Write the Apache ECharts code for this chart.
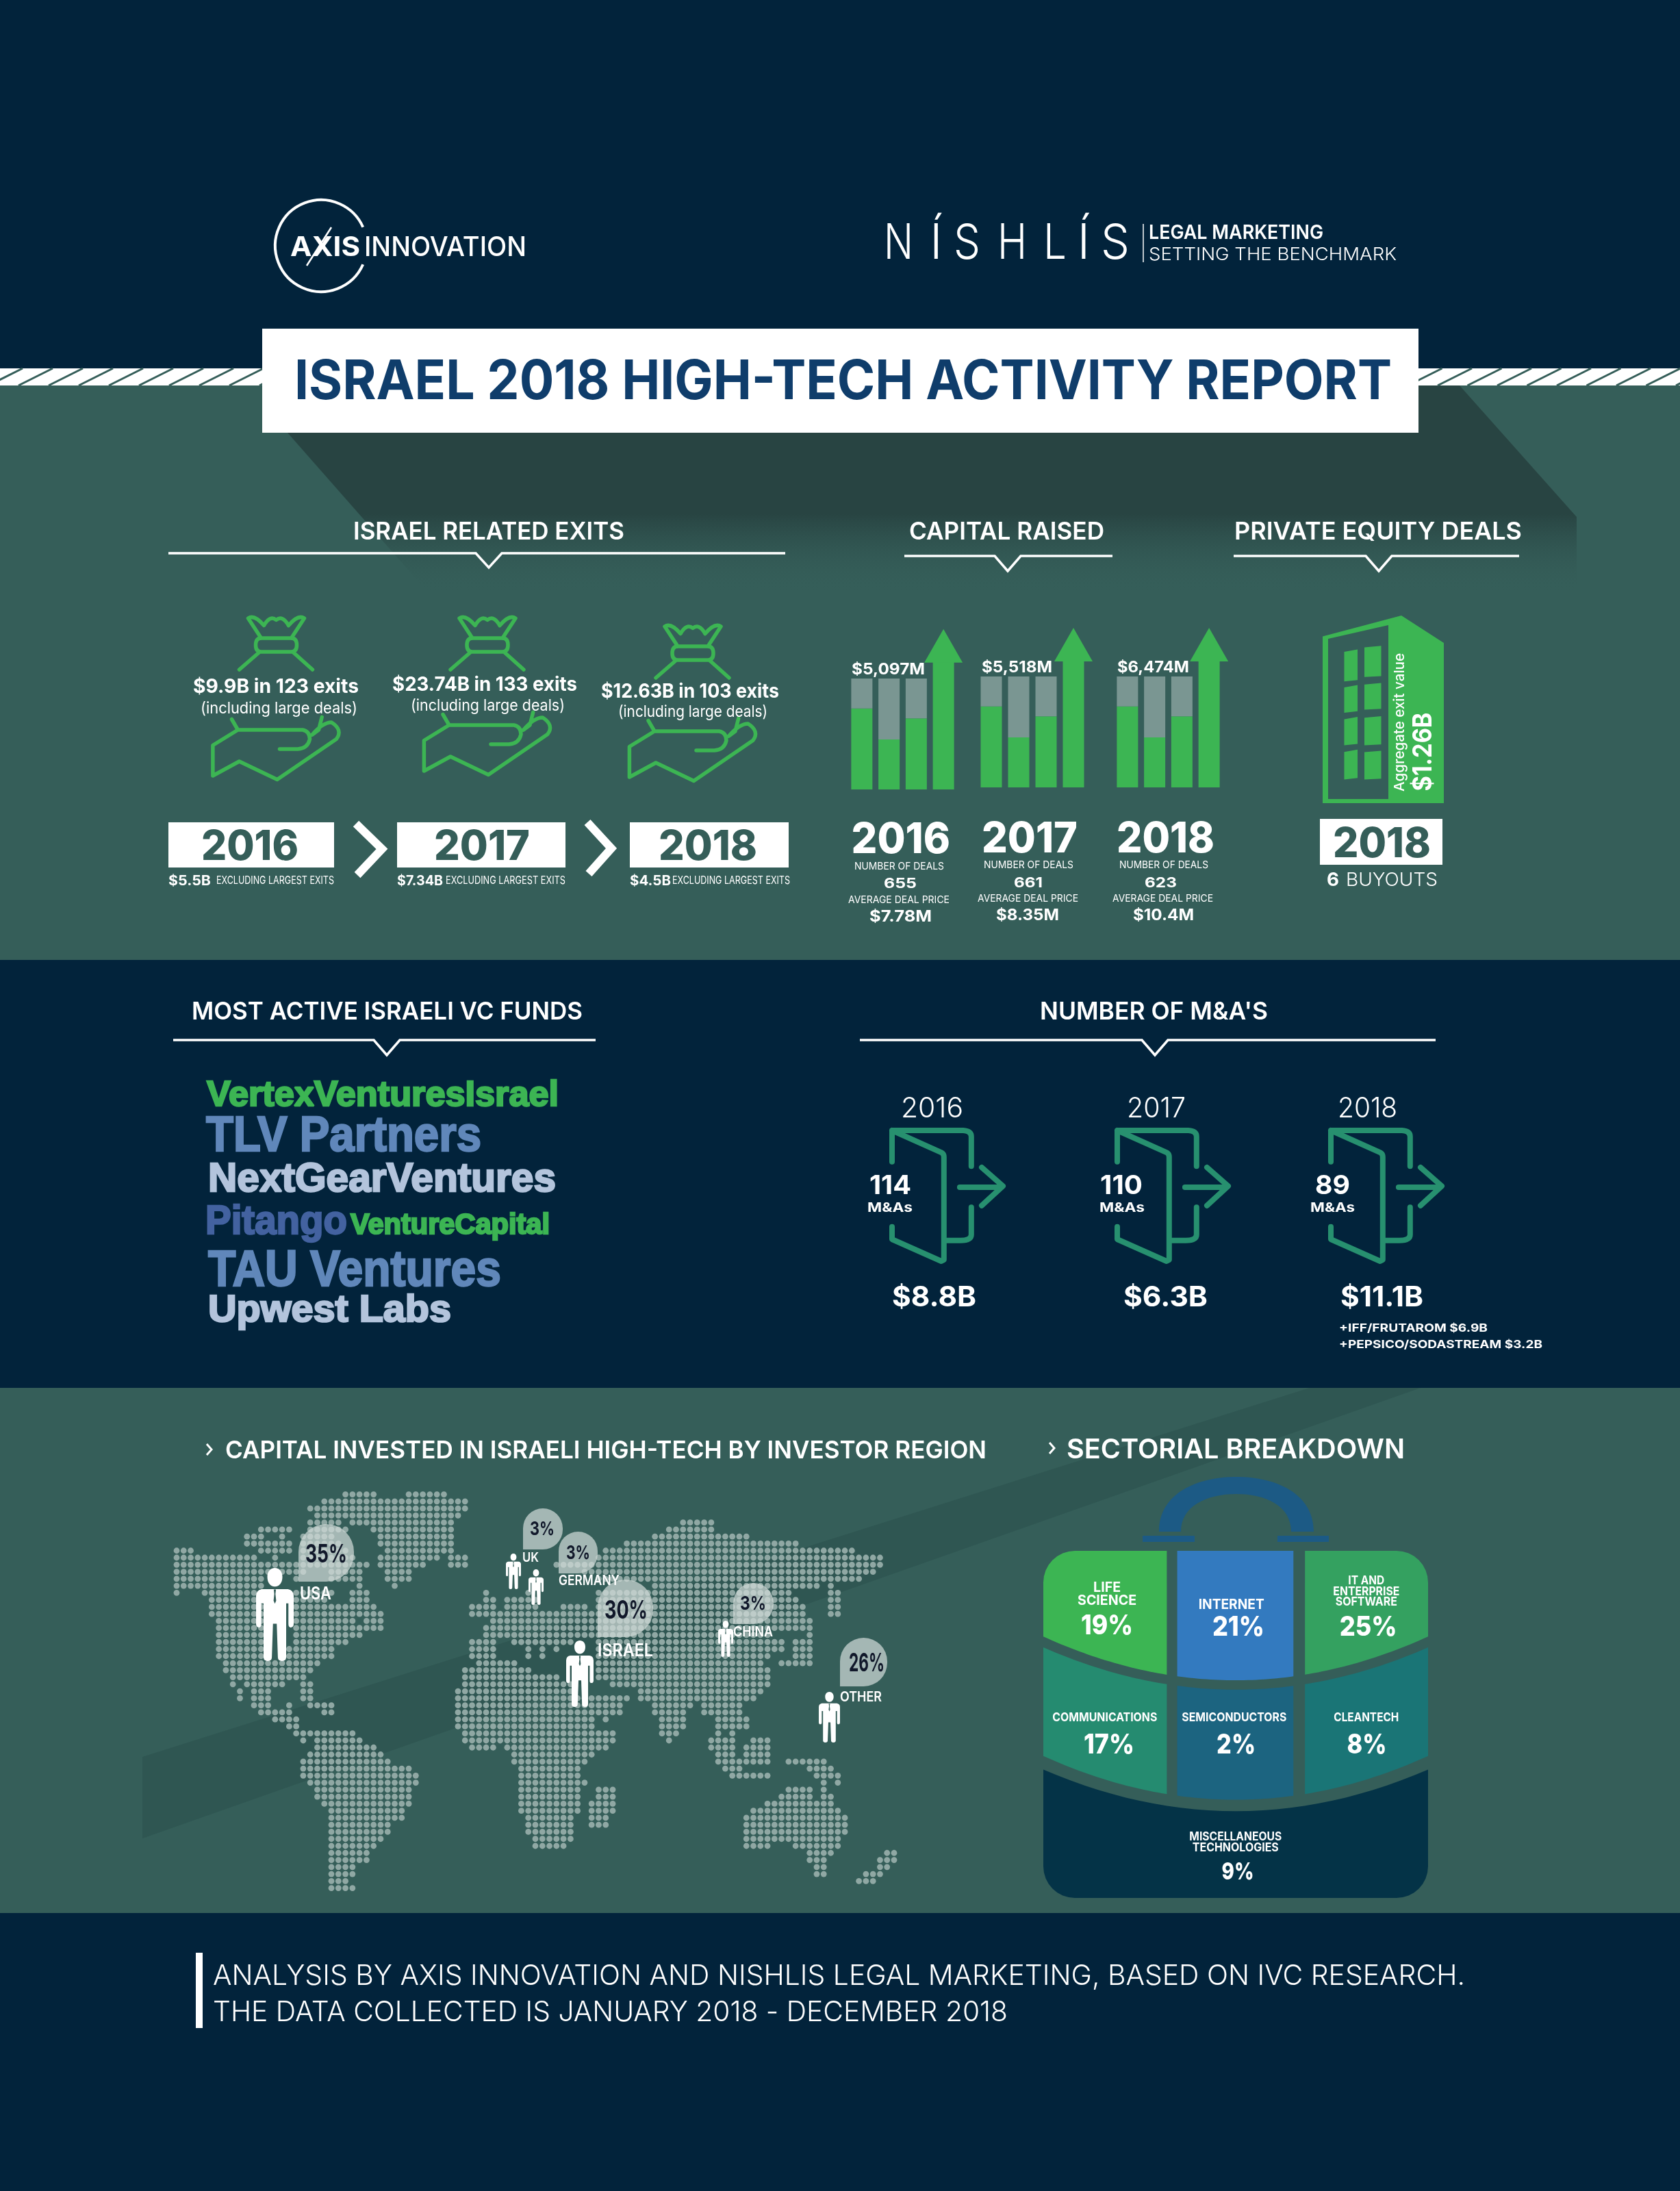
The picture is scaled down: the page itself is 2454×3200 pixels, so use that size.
<!DOCTYPE html>
<html><head><meta charset="utf-8">
<style>html,body{margin:0;padding:0;background:#02233b}#c{width:2454px;height:3200px}</style>
<script src="https://cdn.jsdelivr.net/npm/echarts@6/dist/echarts.min.js"></script>
</head><body><div id="c"></div>
<script>
// ---------- DATA ----------
const years = ['2016', '2017', '2018'];
const exitValues = ['9.9', '23.74', '12.63'];
const exitCounts = [123, 133, 103];
const exitsExcluding = ['5.5', '7.34', '4.5'];
const capitalRaised = ['5,097', '5,518', '6,474'];
const dealCounts = [655, 661, 623];
const avgDealPrice = ['7.78', '8.35', '10.4'];
const barSlots = ['a', 'b', 'c', 'arrow'];
const raisedGreen = [[73, 45, 64, 115], [73, 45, 64, 114], [73, 45, 64, 114]];
const raisedGrey = [[27, 55, 36, 0], [27, 55, 36, 0], [27, 55, 36, 0]];
const arrowHead = [129.5, 128.7, 128.7];
const vcFunds = ['VertexVenturesIsrael', 'TLV Partners', 'NextGearVentures', 'Pitango', 'VentureCapital', 'TAU Ventures', 'Upwest Labs'];
const maCounts = [114, 110, 89];
const maValues = ['8.8', '6.3', '11.1'];
const maNotes = ['+IFF/FRUTAROM $6.9B', '+PEPSICO/SODASTREAM $3.2B'];
const regions = ['USA', 'UK', 'GERMANY', 'ISRAEL', 'CHINA', 'OTHER'];
const regionPct = [35, 3, 3, 30, 3, 26];
const sectorNames = [['LIFE', 'SCIENCE'], ['INTERNET'], ['IT AND', 'ENTERPRISE', 'SOFTWARE'], ['COMMUNICATIONS'], ['SEMICONDUCTORS'], ['CLEANTECH'], ['MISCELLANEOUS', 'TECHNOLOGIES']];
const sectorPct = [19, 21, 25, 17, 2, 8, 9];
const sectorCell = [[0, 0], [1, 0], [2, 0], [0, 1], [1, 1], [2, 1], [-1, 2]];
// dot map: one string per row, runs of occupied columns
const mapRows = [
'24-28 33-38','21-41','19-41','20-25 26-40','19-23 25-39 72-76','12-16 19-24 28-39 70-76',
'10-12 15 18-22 29-39 68-81','10-16 18-23 29-39 64-88','0-2 12-16 18-24 30-39 61-96',
'0-11 14 18-25 29-37 39-41 60-100','0-13 14-27 29-35 39-41 54-100','0-18 22-26 30-33 58-99',
'0-12 17 22-26 30-33 60-97','0-12 26 31 68-91 93','0 4-11 17-22 25-27 44 50 60-87 93-94',
'5-12 17-21 25-27 44-45 47-51 60-88 93-94','5-12 17-20 21-28 42-45 47-51 55-58 60-89 93-94',
'5-12 17-29 42-89 93-94','6-12 17-25 27-29 45-90','6-12 17-25 26-29 44-90','6-13 17-26 44-84 90',
'6-12 17-23 24 42-45 48-50 51-56 60-86 88-90','6-13 16-22 42-45 50 52 54 60-86 88-90',
'6-13 16-22 42-45 50 52 60-84 88-90','7-20 43-48 60-83 86-90','7-19 41-50 60-84','8-18 41-54 60-84',
'8 10-15 18-19 41-56 62-84','9 11-13 18-19 40-56 66-83','9 11-13 18-19 40-64 66-82',
'11-13 16 19-22 40-63 68-73 75-80','12-16 21-22 40-63 68-72 75-80','14-17 40-59 61 69-72 77-81',
'16-17 40-59 69-72 77-81','17-25 41-62 69-71 77 79','18 20-26 41-62 70 76-79 82-84',
'20-28 42-45 47-61 76-79 81-84','19-29 48-59 77-79 81-84','18-30 48-58 77-84 87-92',
'18-33 49-57 78-80 90-93','18-34 49-57 79-84 91-94','19-34 49-58 92 94','20-33 49-57 60-62 87-90 92',
'20-33 49-57 60-62 86-90 92-93','21-33 49-57 59-62 84-93','22-32 49-57 59-62 82-94',
'22-32 50-56 59-61 81-95','22-30 50-56 59-61 81-95','22-30 50-56 81-95','22-29 51-56 81-94',
'22-28 51-55 81-84 88-94','22-27 90-93 101-102','22-27 90-92 100-102','22-25 91-92 100-101',
'22-25 91-92 98-100','22-24 97-99','22-25'];

// ---------- COLOURS / HELPERS ----------
const NAVY = '#02233b', PANEL = '#355e59', GREEN = '#3cb553', DOT = '#90a8a4', TEAL = '#27906f';
const FONT = 'Inter', ARIAL = 'Liberation Sans';
const ctx = document.createElement('canvas').getContext('2d');
function T(text, x, y, cap, o) {
  o = o || {};
  const font = o.font || FONT, weight = o.weight || 700;
  const size = cap / (font === FONT ? 0.727 : 0.716);
  let sx = 1;
  if (o.w) { ctx.font = weight + ' ' + size + 'px "' + font + '"'; sx = o.w / ctx.measureText(text).width; }
  const st = { text: text, x: 0, y: 0, fontFamily: font, fontSize: size, fontWeight: weight, fill: o.color || '#fff',
      align: o.align || 'left', verticalAlign: 'middle' };
  if (o.heavy) { st.stroke = o.color; st.lineWidth = o.heavy; st.lineJoin = 'round'; }
  return { type: 'text', x: x, y: y + cap * 0.09, scaleX: sx, scaleY: 1, rotation: o.rot || 0, z: 10, silent: true, style: st };
}
const L = (t, x0, x1, y, cap, o) => T(t, x0, y, cap, Object.assign({ w: x1 - x0 }, o || {}));
const C = (t, x0, x1, y, cap, o) => T(t, (x0 + x1) / 2, y, cap, Object.assign({ w: x1 - x0, align: 'center' }, o || {}));
const G = [];
const rect = (x, y, w, h, fill, z) => G.push({ type: 'rect', z: z == null ? 10 : z, silent: true, shape: { x, y, width: w, height: h }, style: { fill } });
const poly = (pts, fill, z) => G.push({ type: 'polygon', z: z == null ? 10 : z, silent: true, shape: { points: pts }, style: { fill } });
const pline = (pts, stroke, lw, z) => G.push({ type: 'polyline', z: z == null ? 10 : z, silent: true, shape: { points: pts }, style: { fill: 'none', stroke, lineWidth: lw, lineJoin: 'miter', lineCap: 'butt' } });
const shapeNames = {};
let shapeCount = 0;
function shapeFor(d) {
  if (!shapeNames[d]) {
    shapeNames[d] = 'svgShape' + (shapeCount++);
    echarts.graphic.registerShape(shapeNames[d], echarts.graphic.extendPath(d, {}));
  }
  return shapeNames[d];
}
const path = (d, x, y, st, z, sx, sy) => G.push({ type: shapeFor(d), x, y, scaleX: sx || 1, scaleY: sy || 1, z: z == null ? 10 : z, silent: true, style: st });
const ruleChevron = (x0, x1, y, cx, tip, hw) => pline([[x0, y], [cx - hw, y], [cx, tip], [cx + hw, y], [x1, y]], '#fff', 3.5);

// ---------- BACKGROUNDS ----------
rect(0, 563, 2454, 839, PANEL, 0);
rect(0, 2027, 2454, 767, PANEL, 0);
G.push({ type: 'polygon', z: 1, silent: true, shape: { points: [[420, 632], [2072, 563], [2132, 563], [2303, 755], [2303, 865], [625, 865]] },
  style: { fill: { type: 'linear', x: 0, y: 0, x2: 0, y2: 1, colorStops: [{ offset: 0, color: '#284442' }, { offset: 0.62, color: '#284442' }, { offset: 1, color: 'rgba(53,94,89,0)' }] } } });
poly([[208, 2566], [1913, 2027], [2075, 2027], [208, 2685]], '#2f5652', 1);

// stripes
rect(0, 538, 383, 25, '#fff', 3);
rect(2072, 538, 382, 25, '#fff', 3);
for (let k = -1; k < 9; k++) pline([[27 + 44 * k, 563], [77 + 44 * k, 538]], PANEL, 3, 4);
for (let k = -1; k < 9; k++) pline([[2100 + 43.5 * k, 563], [2150 + 43.5 * k, 538]], PANEL, 3, 4);

// ---------- HEADER ----------
G.push({ type: 'arc', z: 10, silent: true, shape: { cx: 469, cy: 359, r: 67, startAngle: 24 * Math.PI / 180, endAngle: 336 * Math.PI / 180 }, style: { fill: 'none', stroke: '#fff', lineWidth: 4 } });
pline([[484, 332], [448, 388]], '#fff', 2.5);
G.push(L('AXIS', 424, 526, 359, 29, { weight: 700 }));
G.push(L('INNOVATION', 532, 769, 359, 29, { weight: 500 }));
const nishLetters = ['N', 'Í', 'S', 'H', 'L', 'Í', 'S'];
const nishX = [[1291, 1334], [1360, 1375], [1393, 1432], [1457, 1500], [1524, 1558], [1575, 1591], [1608, 1650]];
nishLetters.forEach((ch, i) => {
  if (ch === 'Í') G.push(T(ch, (nishX[i][0] + nishX[i][1]) / 2, 352, 52, { weight: 300, align: 'center' }));
  else G.push(L(ch, nishX[i][0], nishX[i][1], 352, 52, { weight: 300 }));
});
pline([[1670, 327], [1670, 383]], '#fff', 1.5);
G.push(L('LEGAL MARKETING', 1678, 1933, 338, 21, { weight: 600 }));
G.push(L('SETTING THE BENCHMARK', 1678, 2040, 370, 19, { weight: 300 }));
rect(383, 480, 1689, 152, '#fff');
G.push(L('ISRAEL 2018 HIGH-TECH ACTIVITY REPORT', 430, 2033, 554, 58, { weight: 700, color: '#0f3d6b' }));

// ---------- EXITS ----------
G.push(C('ISRAEL RELATED EXITS', 516, 912, 775, 26, { weight: 600 }));
ruleChevron(246, 1147, 808, 714, 829, 19);
const bagD = 'M-41,2 Q-32,-4 -18,12.5 Q-9,-3 0,4.5 Q9,-3 18,12.5 Q32,-4 41,2 L22,31 M-41,2 L-22,31 M-22,31 L22,31 Q30,31 30,41 Q30,51 22,51 L-22,51 Q-30,51 -30,41 Q-30,31 -22,31 M-24,51 L-54,77 M24,51 L53,77';
const handD = 'M-65,149.5 L-56,165 L38.6,165 Q49,167 49,178.6 Q46,192 31.6,193 L5,193 M-56,165 L-92.6,187.5 L-92.6,232 L-54,211 L1.4,237.5 L87.7,178.6 Q98,165 80.7,154 Q68,154 52.6,172 M66.7,146.4 L62,165 L52.6,172';
const bagPos = [[403.5, 901, 0], [712, 901, -7], [1012, 913, -10]];
const greenLine = { fill: 'none', stroke: GREEN, lineWidth: 5.5, lineCap: 'round', lineJoin: 'round' };
const exitText = [[282, 524, 1001], [573, 843, 998], [878, 1138, 1008]];
const exitSub = [[293, 522, 1033], [600, 825, 1029.5], [903, 1121, 1038]];
const yrBox = [[246, 488], [580, 826], [920, 1152]];
const yrTxt = [[294, 436], [634, 774], [962, 1106]];
const exclA = [[246, 308], [580, 647], [920, 980]];
const exclB = [[316, 488], [651, 826], [982, 1154]];
years.forEach((y, i) => {
  const b = bagPos[i];
  path(bagD, b[0], b[1], greenLine);
  path(handD, b[0], b[1] + b[2], greenLine);
  G.push(C('$' + exitValues[i] + 'B in ' + exitCounts[i] + ' exits', exitText[i][0], exitText[i][1], exitText[i][2], 21, { weight: 700 }));
  G.push(C('(including large deals)', exitSub[i][0], exitSub[i][1], exitSub[i][2], 17, { weight: 400 }));
  rect(yrBox[i][0], 1201, yrBox[i][1] - yrBox[i][0], 66, '#fff');
  G.push(C(y, yrTxt[i][0], yrTxt[i][1], 1234, 44, { color: PANEL, weight: 800 }));
  G.push(L('$' + exitsExcluding[i] + 'B', exclA[i][0], exclA[i][1], 1285, 15, { weight: 700 }));
  G.push(L('EXCLUDING LARGEST EXITS', exclB[i][0], exclB[i][1], 1285, 12, { weight: 400 }));
});
pline([[520, 1203], [558, 1240], [522, 1278]], '#fff', 12);
pline([[858, 1201], [893, 1239], [860, 1276]], '#fff', 12);

// ---------- CAPITAL RAISED (text) ----------
G.push(C('CAPITAL RAISED', 1328, 1613, 775, 26, { weight: 600 }));
ruleChevron(1321, 1625, 812, 1472, 834, 19);
const capLab = [[1244, 1351, 976], [1434, 1537, 973], [1632, 1737, 973]];
const yearBig = [[1243.5, 1388, 1223], [1434, 1574, 1222], [1631, 1774, 1222]];
const numLab = [[1248, 1379, 1264], [1437, 1568, 1262], [1635, 1765, 1262]];
const numVal = [[1291, 1339, 1289], [1481, 1523, 1288], [1672, 1719, 1288]];
const avgLab = [[1239, 1387, 1313], [1428, 1575, 1311], [1625, 1772, 1311]];
const avgVal = [[1270, 1361, 1337], [1455, 1547, 1335], [1655, 1744, 1335]];
years.forEach((y, i) => {
  G.push(C('$' + capitalRaised[i] + 'M', capLab[i][0], capLab[i][1], capLab[i][2], 17, { weight: 700 }));
  G.push(C(y, yearBig[i][0], yearBig[i][1], yearBig[i][2], 45, { weight: 800 }));
  G.push(C('NUMBER OF DEALS', numLab[i][0], numLab[i][1], numLab[i][2], 11, { weight: 400 }));
  G.push(C(String(dealCounts[i]), numVal[i][0], numVal[i][1], numVal[i][2], 15, { weight: 700 }));
  G.push(C('AVERAGE DEAL PRICE', avgLab[i][0], avgLab[i][1], avgLab[i][2], 11, { weight: 400 }));
  G.push(C('$' + avgDealPrice[i] + 'M', avgVal[i][0], avgVal[i][1], avgVal[i][2], 17, { weight: 700 }));
});

// ---------- PRIVATE EQUITY ----------
G.push(C('PRIVATE EQUITY DEALS', 1803, 2223, 775, 26, { weight: 600 }));
ruleChevron(1802, 2219, 812, 2014, 834, 19);
poly([[1932, 929.5], [2047, 899], [2109, 939], [2109, 1173], [1932, 1173]], GREEN);
poly([[1940, 933], [2028, 913], [2028, 1167], [1940, 1167]], PANEL);
const wy = v => 720 + v / 2.306;
[[535, 635, 515, 620], [655, 740, 640, 730], [762, 850, 752, 850], [872, 965, 868, 965]].forEach(r => {
  poly([[1963.5, wy(r[0])], [1983, wy(r[0] - 8)], [1983, wy(r[1] - 5)], [1963.5, wy(r[1])]], GREEN);
  poly([[1993, wy(r[2] + 5)], [2017.5, wy(r[2])], [2017.5, wy(r[3] - 3)], [1993, wy(r[3])]], GREEN);
});
G.push(C('Aggregate exit value', 1954, 2156, 0, 15, { weight: 500 }));
G[G.length - 1].x = 2045; G[G.length - 1].y = 1055; G[G.length - 1].rotation = Math.PI / 2;
G.push(C('$1.26B', 2000, 2115, 0, 28, { weight: 700 }));
G[G.length - 1].x = 2079; G[G.length - 1].y = 1098; G[G.length - 1].rotation = Math.PI / 2;
rect(1928, 1196, 179, 67, '#fff');
G.push(C('2018', 1947, 2090, 1230, 44, { color: PANEL, weight: 800 }));
G.push(L('6', 1938, 1956, 1284, 20, { weight: 700 }));
G.push(L('BUYOUTS', 1966, 2100, 1284, 20, { weight: 300 }));

// ---------- VC FUNDS ----------
G.push(L('MOST ACTIVE ISRAELI VC FUNDS', 280, 851, 1476, 26, { weight: 600 }));
ruleChevron(253, 870, 1519, 565, 1541, 19);
const fundBox = [[302, 816, 1597, 37, GREEN], [301, 703, 1656, 52, '#6087ba'], [304, 812, 1720, 42, '#b3c4dc'], [300, 507, 1782, 42, '#4362a0'], [512, 803, 1788, 30, GREEN], [304, 732, 1853, 53, '#6087ba'], [304, 659, 1911, 40, '#b3c4dc']];
vcFunds.forEach((f, i) => {
  const b = fundBox[i];
  G.push(L(f, b[0], b[1], b[2], b[3], { font: ARIAL, color: b[4], heavy: 2.5 }));
});

// ---------- M&A ----------
G.push(C("NUMBER OF M&A'S", 1519, 1852, 1476, 26, { weight: 600 }));
ruleChevron(1256, 2097, 1519, 1687, 1541, 19);
const doorD = 'M0,45.7 L0,0 L103.9,0 Q115.8,0.7 115.8,9 L115.8,52.3 M115.8,112.3 L115.8,152.3 Q115.8,160.7 100,160.7 L75.8,160.7 M0,0 L72.3,32.3 Q75.8,34 75.8,39 L75.8,189 L72,191 L0,159 L0,140.7 M98.9,83 L160,83 M131,54 L162,81.3 L131,109.7';
const doorStyle = { fill: 'none', stroke: TEAL, lineWidth: 8, lineJoin: 'round', lineCap: 'round' };
const doorX = [1303, 1632, 1944];
const maYear = [[1316, 1407], [1646, 1732], [1954, 2041]];
const maNum = [[1270, 1331], [1607, 1669], [1921, 1972]];
const maLab = [[1267, 1333], [1606, 1672], [1914, 1979]];
const maVal = [[1303, 1426], [1641, 1764], [1958, 2079]];
years.forEach((y, i) => {
  path(doorD, doorX[i], 1651, doorStyle);
  G.push(C(y, maYear[i][0], maYear[i][1], 1617, 30, { weight: 300 }));
  G.push(C(String(maCounts[i]), maNum[i][0], maNum[i][1], 1730, 28, { weight: 700 }));
  G.push(C('M&As', maLab[i][0], maLab[i][1], 1763, 14, { weight: 700 }));
  G.push(C('$' + maValues[i] + 'B', maVal[i][0], maVal[i][1], 1893, 30, { weight: 700 }));
});
G.push(L(maNotes[0], 1956, 2173, 1939, 12, { weight: 700 }));
G.push(L(maNotes[1], 1956, 2253, 1963, 12, { weight: 700 }));

// ---------- REGION TITLES ----------
const sectionChev = (x, y) => pline([[x, y - 8], [x + 7, y], [x, y + 8]], '#fff', 3);
sectionChev(302, 2117);
G.push(L('CAPITAL INVESTED IN ISRAELI HIGH-TECH BY INVESTOR REGION', 329, 1441, 2117, 26, { weight: 600 }));
sectionChev(1533, 2115);
G.push(L('SECTORIAL BREAKDOWN', 1558, 2052, 2115, 29, { weight: 600 }));

// ---------- REGION BUBBLES + PEOPLE ----------
const bubble = [[436, 2226, 81, 84], [764, 2203, 58, 60], [816, 2237, 57, 61], [873, 2307, 81, 84], [1071, 2312, 59, 60], [1227, 2392, 69, 71]];
const pctBox = [[446, 507, 2268, 27], [774, 810, 2232, 20], [827, 862, 2267, 20], [883, 946, 2350, 27], [1081, 1119, 2341, 20], [1240, 1292, 2427, 27]];
const person = [[374, 2290, 55, 136], [739, 2269, 22, 52], [772, 2292, 22, 52], [827, 2396, 40, 97], [1049, 2367, 22, 53], [1196, 2471, 31, 74]];
const regionLab = [[438, 484, 2326, 19], [763, 787, 2274, 14], [816, 905, 2307, 15], [873, 954, 2409, 19], [1071, 1129, 2382, 15], [1227, 1288, 2477, 15]];
const bodyD = 'M15,57 L85,57 Q100,60 100,75 L100,150 Q100,160 92,160 Q86,160 86,150 L86,95 L80,95 L80,240 Q80,250 69,250 Q58,250 58,240 L55,150 L45,150 L42,240 Q42,250 31,250 Q20,250 20,240 L20,95 L14,95 L14,150 Q14,160 8,160 Q0,160 0,150 L0,75 Q0,60 15,57 Z M50,0 C62,0 70,10 70,24 C70,40 62,50 50,50 C38,50 30,40 30,24 C30,10 38,0 50,0 Z';
const tieD = 'M47,58 L53,58 L51.5,70 L53.5,88 L50,96 L46.5,88 L48.5,70 Z';
regions.forEach((r, i) => {
  const b = bubble[i], p = person[i], t = pctBox[i], l = regionLab[i];
  const rad = b[2] / 2;
  G.push({ type: 'rect', z: 8, silent: true, shape: { x: b[0], y: b[1], width: b[2], height: b[3], r: [rad, rad, rad, 0] }, style: { fill: 'rgba(208,218,215,0.72)' } });
  G.push(C(regionPct[i] + '%', t[0], t[1], t[2], t[3], { color: '#11182a', weight: 700 }));
  path(bodyD, p[0], p[1], { fill: '#fff' }, 9, p[2] / 100, p[3] / 250);
  path(tieD, p[0], p[1], { fill: PANEL }, 9, p[2] / 100, p[3] / 250);
  G.push(L(r, l[0], l[1], l[2], l[3], { weight: 600 }));
});

// ---------- BRIEFCASE HANDLE ----------
path('M1693,2237 C1693,2180 1750,2157 1806,2157 C1862,2157 1919,2180 1919,2237 L1886,2237 C1886,2200 1850,2182 1806,2182 C1762,2182 1725,2200 1725,2237 Z', 0, 0, { fill: '#1c5a85' }, 5);
rect(1669, 2243, 76, 9, '#1c5a85', 5);
rect(1866, 2243, 75, 9, '#1c5a85', 5);

// ---------- FOOTER ----------
rect(286, 2852, 10, 110, '#fff');
G.push(L('ANALYSIS BY AXIS INNOVATION AND NISHLIS LEGAL MARKETING, BASED ON IVC RESEARCH.', 311, 2140, 2884, 30, { weight: 300 }));
G.push(L('THE DATA COLLECTED IS JANUARY 2018 - DECEMBER 2018', 311, 1472, 2937, 30, { weight: 300 }));

// ---------- SERIES ----------
const mapDots = [];
mapRows.forEach((row, r) => row.split(' ').forEach(run => {
  const p = run.split('-').map(Number);
  for (let c = p[0]; c <= (p[1] == null ? p[0] : p[1]); c++) mapDots.push([c, r]);
}));

const grids = [], xAxes = [], yAxes = [], series = [];
const barGrid = [[1239, 159, 1153], [1428, 160, 1150], [1627, 159, 1150]];
years.forEach((y, i) => {
  const g = barGrid[i];
  grids.push({ left: g[0], width: g[1], top: g[2] - 243, height: 243 });
  xAxes.push({ type: 'category', gridIndex: i, data: barSlots, show: false });
  yAxes.push({ type: 'value', gridIndex: i, min: 0, max: 150, show: false });
  series.push({ type: 'bar', name: y + ' green', xAxisIndex: i, yAxisIndex: i, stack: 's' + i, barWidth: 31, data: raisedGreen[i], itemStyle: { color: GREEN }, silent: true });
  series.push({ type: 'bar', name: y + ' grey', xAxisIndex: i, yAxisIndex: i, stack: 's' + i, barWidth: 31, data: raisedGrey[i], itemStyle: { color: '#7a9692' }, silent: true });
  series.push({ type: 'scatter', name: y + ' arrow', xAxisIndex: i, yAxisIndex: i, symbol: 'triangle', symbolSize: [56, 49], data: [[3, arrowHead[i]]], itemStyle: { color: GREEN, opacity: 1 }, silent: true });
});
// dot map
grids.push({ left: 258, width: 1048, top: 2182.6, height: 575 });
xAxes.push({ type: 'value', gridIndex: 3, min: 0, max: 102, show: false });
yAxes.push({ type: 'value', gridIndex: 3, min: 0, max: 56, inverse: true, show: false });
series.push({ type: 'scatter', name: 'map', xAxisIndex: 3, yAxisIndex: 3, symbol: 'circle', symbolSize: 8.8, data: mapDots, itemStyle: { color: DOT, opacity: 1 }, silent: true, large: false, z: 2 });

// briefcase
const colX = [[0, 0.321], [0.348, 0.650], [0.680, 1]];
const rowEdge = [[[0, 0], [0.247, 0.126]], [[0.278, 0.122], [0.591, 0.126]], [[0.63, 0.12], [1, 0]]];
const sectorColor = ['#3cb553', '#337abf', '#34a160', '#258b70', '#1c6480', '#1a7576', '#043347'];
const z4 = (zx, zy) => [(zx - 107) / 1377, (zy - 258) / 1242];
const sectorLabelLayout = [
  { n: [[335, 388, 40], [335, 433, 86]], c: 14.5, p: [335, 520, 76], pc: 29 },
  { n: [[780, 447, 96]], c: 15, p: [805, 525, 76], pc: 29 },
  { n: [[1263, 362, 53], [1263, 400, 97], [1263, 438, 90]], c: 13, p: [1270, 525, 84], pc: 29 },
  { n: [[327, 853, 153]], c: 13, p: [342, 948, 74], pc: 29 },
  { n: [[790, 853, 153]], c: 13, p: [797, 948, 57], pc: 29 },
  { n: [[1263, 853, 95]], c: 13, p: [1265, 948, 58], pc: 29 },
  { n: [[795, 1280, 135], [795, 1318, 126]], c: 12.5, p: [803, 1403, 47], pc: 25 }
];
const bow = (e, x) => e[0] + e[1] * (1 - Math.pow(2 * x - 1, 2));
grids.push({ left: 1524, width: 562, top: 2265, height: 507 });
xAxes.push({ type: 'value', gridIndex: 4, min: 0, max: 1, show: false });
yAxes.push({ type: 'value', gridIndex: 4, min: 0, max: 1, inverse: true, show: false });
series.push({
  type: 'custom', name: 'sectors', xAxisIndex: 4, yAxisIndex: 4, coordinateSystem: 'cartesian2d', silent: true, clip: false,
  data: sectorPct.map((v, i) => [sectorCell[i][0], sectorCell[i][1], v, i]),
  renderItem: (params, api) => {
    const col = api.value(0), row = api.value(1), idx = api.value(3);
    const xa = col < 0 ? 0 : colX[col][0], xb = col < 0 ? 1 : colX[col][1];
    const pts = [];
    const rx = 0.082, ry = 0.091, N = 28;
    const corner = (cx, cy, a0, a1) => { for (let k = 0; k <= 8; k++) { const a = a0 + (a1 - a0) * k / 8; pts.push([cx + rx * Math.cos(a), cy + ry * Math.sin(a)]); } };
    if (row === 0) {
      if (col === 0) corner(xa + rx, ry, Math.PI, 1.5 * Math.PI); else pts.push([xa, 0]);
      if (col === 2) corner(xb - rx, ry, 1.5 * Math.PI, 2 * Math.PI); else pts.push([xb, 0]);
    } else {
      for (let k = 0; k <= N; k++) { const x = xa + (xb - xa) * k / N; pts.push([x, bow(rowEdge[row][0], x)]); }
    }
    if (row === 2) {
      corner(xb - rx, 1 - ry, 0, 0.5 * Math.PI);
      corner(xa + rx, 1 - ry, 0.5 * Math.PI, Math.PI);
    } else {
      for (let k = N; k >= 0; k--) { const x = xa + (xb - xa) * k / N; pts.push([x, bow(rowEdge[row][1], x)]); }
    }
    const children = [{ type: 'polygon', shape: { points: pts.map(p => api.coord(p)) }, style: { fill: sectorColor[idx] } }];
    const lay = sectorLabelLayout[idx];
    sectorNames[idx].forEach((line, k) => {
      const n = lay.n[k], c = api.coord(z4(n[0], n[1]));
      children.push(T(line, c[0], c[1], lay.c, { w: n[2], align: 'center', weight: 700 }));
    });
    const pc = api.coord(z4(lay.p[0], lay.p[1]));
    children.push(T(api.value(2) + '%', pc[0], pc[1], lay.pc, { w: lay.p[2], align: 'center', weight: 800 }));
    return { type: 'group', children };
  }
});

const chart = echarts.init(document.getElementById('c'), null, { renderer: 'canvas', width: 2454, height: 3200 });
chart.setOption({
  animation: false, backgroundColor: NAVY, tooltip: { show: false },
  grid: grids, xAxis: xAxes, yAxis: yAxes, series,
  graphic: { elements: G }
});
</script></body></html>
